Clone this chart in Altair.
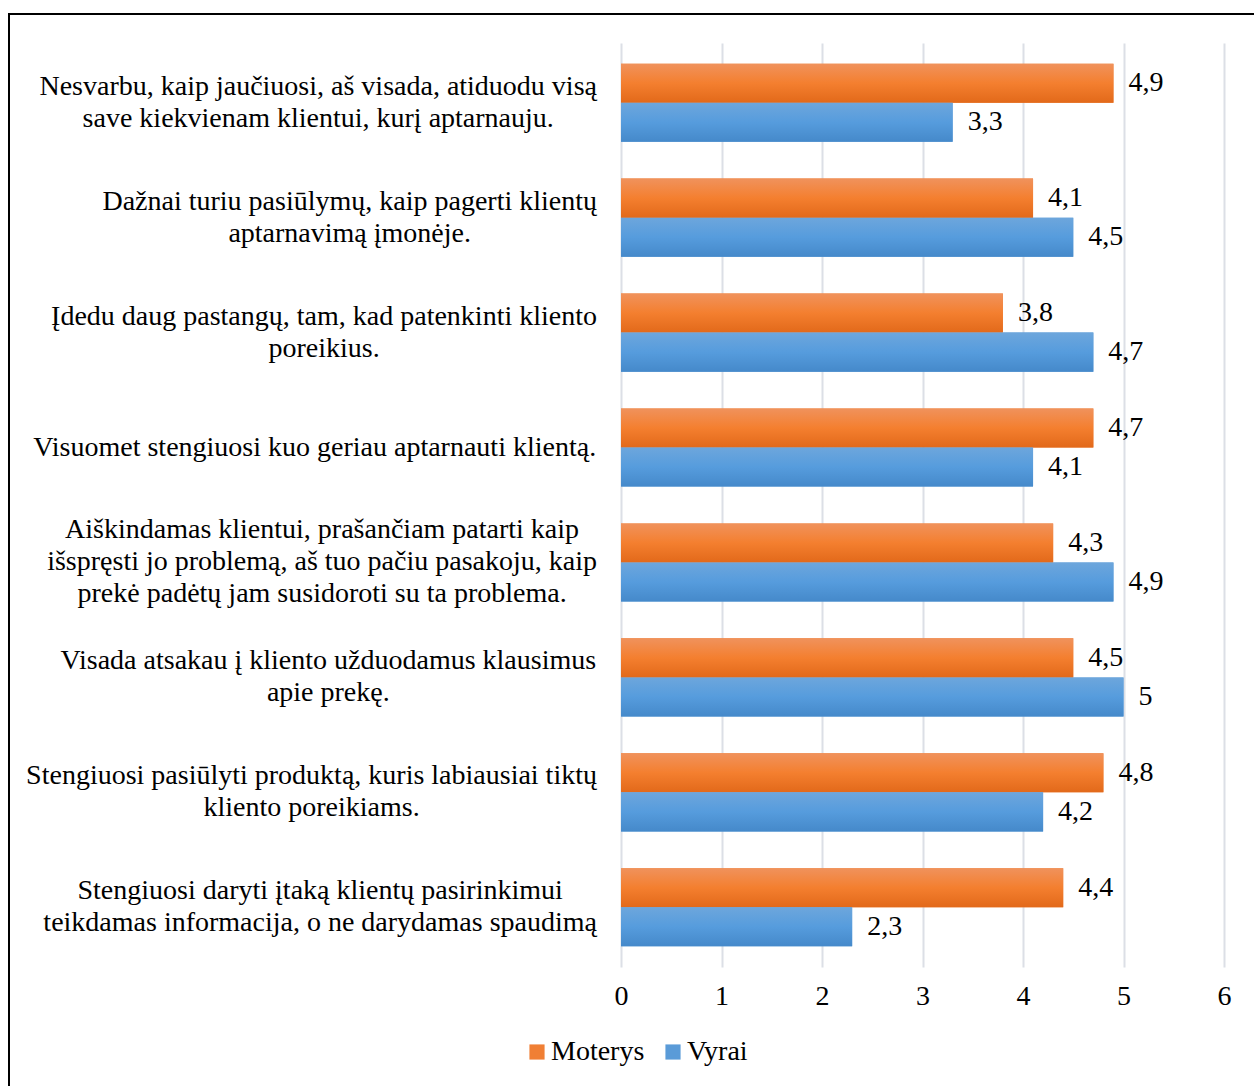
import altair as alt
import pandas as pd

categories = [
    "Nesvarbu, kaip jaučiuosi, aš visada, atiduodu visą|save kiekvienam klientui, kurį aptarnauju.",
    "Dažnai turiu pasiūlymų, kaip pagerti klientų|aptarnavimą įmonėje.",
    "Įdedu daug pastangų, tam, kad patenkinti kliento|poreikius.",
    "Visuomet stengiuosi kuo geriau aptarnauti klientą.",
    "Aiškindamas klientui, prašančiam patarti kaip|išspręsti jo problemą, aš tuo pačiu pasakoju, kaip|prekė padėtų jam susidoroti su ta problema.",
    "Visada atsakau į kliento užduodamus klausimus|apie prekę.",
    "Stengiuosi pasiūlyti produktą, kuris labiausiai tiktų|kliento poreikiams.",
    "Stengiuosi daryti įtaką klientų pasirinkimui|teikdamas informacija, o ne darydamas spaudimą",
]
moterys = [4.9, 4.1, 3.8, 4.7, 4.3, 4.5, 4.8, 4.4]
vyrai = [3.3, 4.5, 4.7, 4.1, 4.9, 5.0, 4.2, 2.3]
series = ["Moterys", "Vyrai"]
x_ticks = [0, 1, 2, 3, 4, 5, 6]

FONT = "Liberation Serif"
FS = 28
LH = 32

rows = []
for c, m, v in zip(categories, moterys, vyrai):
    for s, val in zip(series, [m, v]):
        lab = ("%g" % val).replace(".", ",")
        rows.append({"cat": c, "series": s, "value": val, "label": lab})
df = pd.DataFrame(rows)

# Times / Liberation Serif advance widths (per 1000 em) to right-align the
# label blocks while centring the lines inside each block, as Excel does.
_W = {" ": 250, ",": 250, ".": 250,
      "a": 444, "b": 500, "c": 444, "d": 500, "e": 444, "f": 333, "g": 500,
      "h": 500, "i": 278, "j": 278, "k": 500, "l": 278, "m": 778, "n": 500,
      "o": 500, "p": 500, "q": 500, "r": 333, "s": 389, "t": 278, "u": 500,
      "v": 500, "w": 722, "x": 500, "y": 500, "z": 444,
      "A": 722, "D": 722, "I": 333, "N": 722, "S": 556, "V": 722}
_BASE = str.maketrans("ąčęėįšūųžĮ", "aceeisuuzI")


def text_width(s):
    return sum(_W.get(ch, 500) for ch in s.translate(_BASE)) * FS / 1000.0


LABEL_RIGHT = -24  # right edge of the label block, relative to the plot's left edge
cat_df = pd.DataFrame({
    "cat": categories,
    "nlines": [len(c.split("|")) for c in categories],
    "cx": [LABEL_RIGHT - max(text_width(p) for p in c.split("|")) / 2 for c in categories],
})

y_enc = alt.Y(
    "cat:N",
    sort=categories,
    scale=alt.Scale(paddingInner=0.32, paddingOuter=0.18),
    axis=alt.Axis(title=None, labels=False, ticks=False, domain=False, grid=False),
)
yoff_enc = alt.YOffset("series:N", sort=series, scale=alt.Scale(paddingInner=0, paddingOuter=0))
x_enc = alt.X(
    "value:Q",
    scale=alt.Scale(domain=[0, 6], nice=False),
    axis=alt.Axis(
        title=None,
        values=x_ticks,
        format="d",
        labelFont=FONT,
        labelFontSize=FS,
        labelColor="#000000",
        labelPadding=15,
        labelFlush=False,
        ticks=False,
        domain=False,
        grid=True,
        gridColor="#DCDFE6",
        gridWidth=2,
    ),
)

base = alt.Chart(df)

solid = base.mark_bar().encode(
    x=x_enc,
    y=y_enc,
    yOffset=yoff_enc,
    color=alt.Color(
        "series:N",
        sort=series,
        scale=alt.Scale(domain=series, range=["#F07F34", "#5A9BD8"]),
        legend=alt.Legend(
            title=None,
            orient="none",
            direction="horizontal",
            legendX=-98,
            legendY=995,
            symbolType="square",
            symbolSize=230,
            symbolStrokeWidth=0,
            labelFont=FONT,
            labelFontSize=FS,
            labelColor="#000000",
            labelOffset=0,
            columnPadding=14,
        ),
    ),
)

orange_grad = alt.Gradient(
    gradient="linear",
    x1=0, y1=0, x2=0, y2=1,
    stops=[
        alt.GradientStop(offset=0, color="#F0925C"),
        alt.GradientStop(offset=0.5, color="#F47F2F"),
        alt.GradientStop(offset=1, color="#E2691A"),
    ],
)
blue_grad = alt.Gradient(
    gradient="linear",
    x1=0, y1=0, x2=0, y2=1,
    stops=[
        alt.GradientStop(offset=0, color="#6DA6DC"),
        alt.GradientStop(offset=0.5, color="#569CDD"),
        alt.GradientStop(offset=1, color="#4589CA"),
    ],
)

grad_m = base.transform_filter(alt.datum.series == "Moterys").mark_bar(color=orange_grad).encode(
    x=x_enc, y=y_enc, yOffset=yoff_enc
)
grad_v = base.transform_filter(alt.datum.series == "Vyrai").mark_bar(color=blue_grad).encode(
    x=x_enc, y=y_enc, yOffset=yoff_enc
)

text = base.mark_text(align="left", baseline="middle", dx=15, font=FONT, fontSize=FS, color="#000000").encode(
    x=x_enc, y=y_enc, yOffset=yoff_enc, text="label:N"
)

cat_layers = []
for n in [1, 2, 3]:
    cat_layers.append(
        alt.Chart(cat_df)
        .transform_filter(alt.datum.nlines == n)
        .mark_text(
            align="center", baseline="middle", lineBreak="|", lineHeight=LH,
            font=FONT, fontSize=FS, color="#000000", dy=-(n - 1) * LH / 2,
        )
        .encode(y=y_enc, x=alt.X("cx:Q", scale=None), text="cat:N")
    )

border = alt.Chart(alt.Data(values=[{"a": 1}])).mark_rect(
    fill=None, filled=False, stroke="#000000", strokeWidth=2
).encode(
    x=alt.value(-612), x2=alt.value(700), y=alt.value(-29), y2=alt.value(1200)
)

chart = alt.layer(solid, grad_m, grad_v, text, *cat_layers, border).properties(
    width=603,
    height=924,
    autosize=alt.AutoSizeParams(type="none"),
    padding={"left": 621, "top": 43, "right": 30, "bottom": 119},
    background="white",
).configure_view(stroke=None)

chart.save("out.html", embed_options={"renderer": "svg", "actions": False})
